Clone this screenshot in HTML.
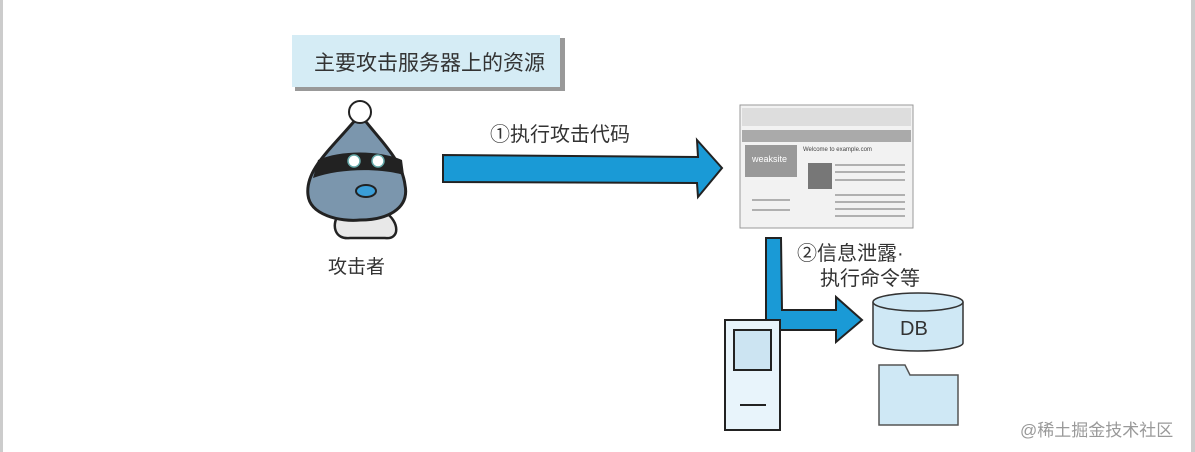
<!DOCTYPE html>
<html><head><meta charset="utf-8"><style>
body{margin:0;width:1195px;height:452px;background:#fff;position:relative;overflow:hidden;font-family:"Liberation Sans","Noto Sans CJK SC",sans-serif}
.a{position:absolute}
.t{position:absolute;color:#333;white-space:nowrap}
</style></head><body>
<div class="a" style="left:0;top:0;width:3px;height:452px;background:#ccc"></div>
<div class="a" style="left:1191px;top:0;width:4px;height:452px;background:#ccc"></div>
<div class="a" style="left:295px;top:38px;width:270px;height:53px;background:#999"></div>
<div class="a" style="left:292px;top:35px;width:268px;height:52px;background:#d5ecf5"></div>
<div class="t" style="left:314px;top:47px;font-size:21px;color:#333">主要攻击服务器上的资源</div>
<div class="t" style="left:490px;top:118px;font-size:20px">①执行攻击代码</div>
<div class="t" style="left:328px;top:252px;font-size:19px">攻击者</div>
<div class="t" style="left:797px;top:237px;font-size:20px">②信息泄露·</div>
<div class="t" style="left:820px;top:262px;font-size:20px">执行命令等</div>
<div class="t" style="left:1020px;top:416px;font-size:17px;color:#999">@稀土掘金技术社区</div>
<svg class="a" style="left:0;top:0" width="1195" height="452">
<polygon points="443,155 698,157 697,140 722,168 698,197 697,183 443,182" fill="#1a9ad6" stroke="#222" stroke-width="2"/>
<path d="M766,238 L781,238 L782,310 L836,310 L836,297 L862,320 L836,342 L836,330 L775,330 L766,330 Z" fill="#1a9ad6" stroke="#222" stroke-width="2"/>
<!-- attacker -->
<path d="M350,238 C335,240 330,225 340,212 L385,212 C400,222 400,240 385,238 Z" fill="#e8e8e8" stroke="#222" stroke-width="2.5"/>
<path d="M357,118 C330,150 305,170 308,195 C310,215 340,222 360,220 C385,220 410,210 405,185 C402,160 380,140 363,118 Z" fill="#7b96ad" stroke="#222" stroke-width="3"/>
<circle cx="360" cy="112" r="11" fill="#fff" stroke="#222" stroke-width="2"/>
<path d="M318,160 C340,150 380,150 402,160 L404,175 C380,168 340,168 313,178 Z" fill="#222"/>
<circle cx="354" cy="161" r="6" fill="#fff" stroke="#6aa" stroke-width="1.5"/><circle cx="378" cy="161" r="6" fill="#fff" stroke="#6aa" stroke-width="1.5"/>
<ellipse cx="366" cy="191" rx="10" ry="6" fill="#3a9ed8" stroke="#222" stroke-width="2"/>
<!-- browser -->
<rect x="740" y="105" width="173" height="123" fill="#f2f2f2" stroke="#999"/>
<rect x="742" y="108" width="169" height="18" fill="#ddd"/>
<rect x="742" y="130" width="169" height="12" fill="#aaa"/>
<rect x="745" y="145" width="52" height="32" fill="#999"/>
<text x="752" y="162" font-size="9" fill="#fff" font-family="Liberation Sans">weaksite</text>
<text x="803" y="151" font-size="6" fill="#444" font-family="Liberation Sans">Welcome to example.com</text>
<g stroke="#999" stroke-width="1.5"><line x1="835" y1="165" x2="905" y2="165"/><line x1="835" y1="172" x2="905" y2="172"/><line x1="835" y1="180" x2="905" y2="180"/><line x1="835" y1="195" x2="905" y2="195"/><line x1="835" y1="202" x2="905" y2="202"/><line x1="835" y1="209" x2="905" y2="209"/><line x1="835" y1="216" x2="905" y2="216"/><line x1="752" y1="200" x2="790" y2="200"/><line x1="752" y1="210" x2="790" y2="210"/></g>
<rect x="808" y="163" width="24" height="26" fill="#777"/>
<!-- server -->
<rect x="725" y="320" width="55" height="110" fill="#e8f4fb" stroke="#222" stroke-width="2"/>
<rect x="734" y="330" width="37" height="40" fill="#cce4f2" stroke="#222" stroke-width="2"/>
<line x1="740" y1="405" x2="766" y2="405" stroke="#222" stroke-width="2"/>
<!-- DB -->
<path d="M873,302 L873,343 A45,8 0 0 0 963,343 L963,302" fill="#cfe8f5" stroke="#333" stroke-width="1.5"/>
<ellipse cx="918" cy="302" rx="45" ry="9" fill="#cfe8f5" stroke="#333" stroke-width="1.5"/>
<text x="900" y="335" font-size="20" fill="#333" font-family="Liberation Sans">DB</text>
<!-- folder -->
<path d="M879,425 L879,365 L905,365 L910,375 L958,375 L958,425 Z" fill="#cfe8f5" stroke="#555" stroke-width="1.5"/>
</svg>
</body></html>
